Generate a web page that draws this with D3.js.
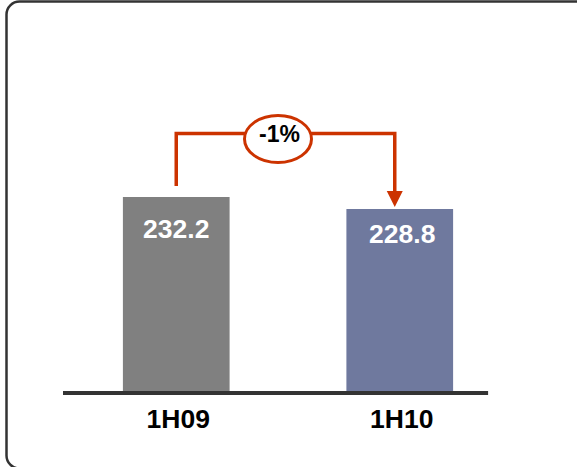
<!DOCTYPE html>
<html>
<head>
<meta charset="utf-8">
<script src="https://cdn.jsdelivr.net/npm/d3@7"></script>
<style>
  html, body { margin: 0; padding: 0; background: #fff; }
  svg { display: block; }
  text { font-family: "Liberation Sans", Arial, sans-serif; font-weight: bold; }
</style>
</head>
<body>
<script>
const categories = ["1H09", "1H10"];
const values = [232.2, 228.8];
const valueLabels = ["232.2", "228.8"];
const barColors = ["#808080", "#6f799e"];
const changeLabel = "-1%";

const W = 577, H = 467;
const svg = d3.select("body").append("svg").attr("width", W).attr("height", H);

// frame
svg.append("rect")
  .attr("x", 6.5).attr("y", 1.5)
  .attr("width", 590).attr("height", 467)
  .attr("rx", 13).attr("ry", 13)
  .attr("fill", "none").attr("stroke", "#333").attr("stroke-width", 2.5);

const x = d3.scaleBand().domain(categories).range([63, 513])
  .paddingInner(0.5226).paddingOuter(0.268);
const y = d3.scaleLinear().domain([176.7, 232.2]).range([393, 197]);
const bw = x.bandwidth();
const cx = c => x(c) + bw / 2;

// bars
svg.selectAll("rect.bar").data(categories).enter().append("rect")
  .attr("class", "bar")
  .attr("x", d => x(d))
  .attr("y", (d, i) => y(values[i]))
  .attr("width", bw)
  .attr("height", (d, i) => y.range()[0] - y(values[i]))
  .attr("fill", (d, i) => barColors[i]);

// baseline
svg.append("line")
  .attr("x1", x.range()[0]).attr("x2", x(categories[1]) + bw + 35)
  .attr("y1", y.range()[0]).attr("y2", y.range()[0])
  .attr("stroke", "#333").attr("stroke-width", 4);

// value labels
const labelDy = [41, 34];
const labelDx = [0, 2.5];
svg.selectAll("text.val").data(categories).enter().append("text")
  .attr("class", "val")
  .attr("x", (d, i) => cx(d) + labelDx[i])
  .attr("y", (d, i) => y(values[i]) + labelDy[i])
  .attr("text-anchor", "middle")
  .attr("fill", "#fff")
  .attr("font-size", 26.5)
  .text((d, i) => valueLabels[i]);

// category labels
svg.selectAll("text.cat").data(categories).enter().append("text")
  .attr("class", "cat")
  .attr("x", d => cx(d) + 2)
  .attr("y", 428)
  .attr("text-anchor", "middle")
  .attr("fill", "#000")
  .attr("font-size", 26.5)
  .text(d => d);

// change arrow
const red = "#cc3300";
const xa = cx(categories[0]);
const xb = cx(categories[1]) - 5;
const yTop = 133.5;
const yStart = y(values[0]) - 11;
const yTip = y(values[1]) - 2;
svg.append("path")
  .attr("d", `M${xa},${yStart} V${yTop} H${xb} V${yTip - 15}`)
  .attr("fill", "none").attr("stroke", red).attr("stroke-width", 3.5);
svg.append("path")
  .attr("d", `M${xb - 8},${yTip - 16} L${xb + 8},${yTip - 16} L${xb},${yTip} Z`)
  .attr("fill", red);

const ex = 278, ey = 139;
svg.append("ellipse")
  .attr("cx", ex).attr("cy", ey).attr("rx", 33.5).attr("ry", 23.5)
  .attr("fill", "#fff").attr("stroke", red).attr("stroke-width", 3);
svg.append("text")
  .attr("x", ex + 1.5).attr("y", ey + 2.5)
  .attr("text-anchor", "middle")
  .attr("font-size", 23)
  .attr("fill", "#000")
  .text(changeLabel);
</script>
</body>
</html>
